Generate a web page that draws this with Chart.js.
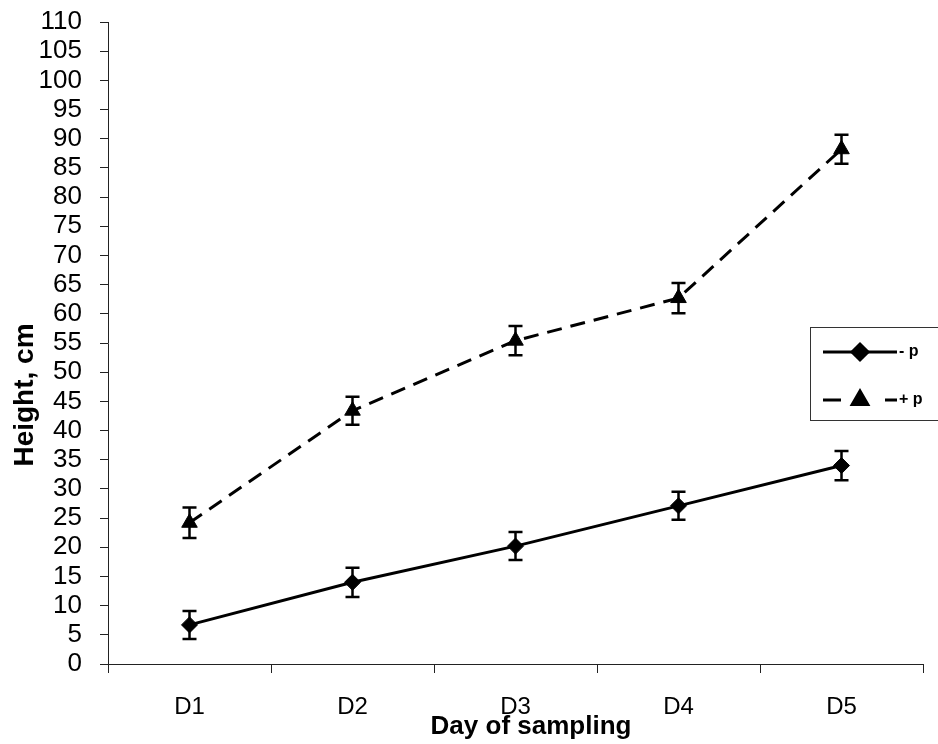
<!DOCTYPE html>
<html>
<head>
<meta charset="utf-8">
<script src="https://cdn.jsdelivr.net/npm/chart.js@4.4.1/dist/chart.umd.min.js"></script>
<style>
  html, body { margin: 0; padding: 0; background: #fff; }
  #wrap { width: 938px; height: 744px; }
</style>
</head>
<body>
<div id="wrap"><canvas id="myChart" width="938" height="744"></canvas></div>
<script>
// data
const days = ['D1', 'D2', 'D3', 'D4', 'D5'];
const minusP = [6.7, 14.0, 20.2, 27.1, 34.0];
const minusPErr = [2.4, 2.5, 2.4, 2.4, 2.5];
const plusP = [24.2, 43.4, 55.4, 62.7, 88.2];
const plusPErr = [2.6, 2.4, 2.5, 2.6, 2.5];
const legendLabels = ['- p', '+ p'];
const yTitle = 'Height, cm';
const xTitle = 'Day of sampling';

const FONT = '"Liberation Sans", Arial, sans-serif';

// error bars, drawn from the y scale
const errorBars = {
    id: 'errorBars',
    afterDatasetsDraw(chart) {
        const ctx = chart.ctx;
        const y = chart.scales.y;
        chart.data.datasets.forEach((ds, i) => {
            const meta = chart.getDatasetMeta(i);
            ctx.save();
            ctx.strokeStyle = '#000';
            ctx.lineWidth = 2.5;
            meta.data.forEach((pt, j) => {
                const top = y.getPixelForValue(ds.data[j] + ds.errors[j]);
                const bot = y.getPixelForValue(ds.data[j] - ds.errors[j]);
                ctx.beginPath();
                ctx.moveTo(pt.x, top);
                ctx.lineTo(pt.x, bot);
                ctx.moveTo(pt.x - 7, top);
                ctx.lineTo(pt.x + 7, top);
                ctx.moveTo(pt.x - 7, bot);
                ctx.lineTo(pt.x + 7, bot);
                ctx.stroke();
            });
            ctx.restore();
        });
    }
};

// axis titles sit a bit off-centre in the original, so place them by hand
const axisTitles = {
    id: 'axisTitles',
    afterDraw(chart) {
        const ctx = chart.ctx;
        ctx.save();
        ctx.fillStyle = '#000';
        ctx.textAlign = 'center';
        ctx.textBaseline = 'middle';
        ctx.font = 'bold 26px ' + FONT;
        ctx.fillText(xTitle, 531, 727);
        ctx.translate(25, 395);
        ctx.rotate(-Math.PI / 2);
        ctx.font = 'bold 28px ' + FONT;
        ctx.fillText(yTitle, 0, 0);
        ctx.restore();
    }
};

// boxed legend sitting over the right side of the plot
const boxLegend = {
    id: 'boxLegend',
    afterDraw(chart) {
        const ctx = chart.ctx;
        ctx.save();
        ctx.fillStyle = '#fff';
        ctx.fillRect(810, 327, 140, 93);
        ctx.strokeStyle = '#333';
        ctx.lineWidth = 1;
        ctx.strokeRect(810.5, 327.5, 140, 93);
        const rows = [352, 400];
        chart.data.datasets.forEach((ds, i) => {
            const yy = rows[i];
            ctx.strokeStyle = '#000';
            ctx.lineWidth = 3;
            ctx.setLineDash(ds.borderDash ? [18, 44] : []);
            ctx.beginPath();
            ctx.moveTo(823, yy);
            ctx.lineTo(897, yy);
            ctx.stroke();
            ctx.setLineDash([]);
            ctx.fillStyle = '#000';
            if (Chart.helpers && Chart.helpers.drawPoint) {
                Chart.helpers.drawPoint(ctx, {
                    pointStyle: ds.pointStyle, radius: ds.pointRadius, borderWidth: 1, rotation: 0
                }, 860, yy);
            }
            ctx.font = 'bold 16px ' + FONT;
            ctx.textBaseline = 'middle';
            ctx.fillText(legendLabels[i], 899, yy);
        });
        ctx.restore();
    }
};

const ctx = document.getElementById('myChart').getContext('2d');
new Chart(ctx, {
    type: 'line',
    data: {
        labels: days,
        datasets: [{
            label: '- p',
            data: minusP,
            errors: minusPErr,
            borderColor: '#000',
            backgroundColor: '#000',
            borderWidth: 3,
            pointStyle: 'rectRot',
            pointRadius: 8,
            pointBorderWidth: 1,
            fill: false
        }, {
            label: '+ p',
            data: plusP,
            errors: plusPErr,
            borderColor: '#000',
            backgroundColor: '#000',
            borderWidth: 3,
            borderDash: [15, 9],
            pointStyle: 'triangle',
            pointRadius: 9,
            pointBorderWidth: 1,
            fill: false
        }]
    },
    options: {
        responsive: false,
        animation: false,
        devicePixelRatio: 1,
        layout: { padding: { top: 22, right: 15, left: 0, bottom: 0 } },
        plugins: { legend: { display: false }, tooltip: { enabled: false } },
        scales: {
            x: {
                offset: true,
                grid: { offset: true, drawOnChartArea: false, drawTicks: true, tickLength: 9, color: '#222' },
                border: { color: '#222', width: 1 },
                ticks: { color: '#000', padding: 20, font: { size: 24, family: FONT } },
                afterFit(scale) { scale.height = 80; scale.paddingLeft = 0; scale.paddingRight = 0; }
            },
            y: {
                min: 0,
                max: 110,
                grid: { drawOnChartArea: false, drawTicks: true, tickLength: 8, color: '#222' },
                border: { color: '#222', width: 1 },
                ticks: { stepSize: 5, autoSkip: false, color: '#000', padding: 18, font: { size: 26, family: FONT } },
                afterFit(scale) { scale.width = 108; scale.paddingTop = 0; scale.paddingBottom = 0; }
            }
        }
    },
    plugins: [errorBars, axisTitles, boxLegend]
});
</script>
</body>
</html>
